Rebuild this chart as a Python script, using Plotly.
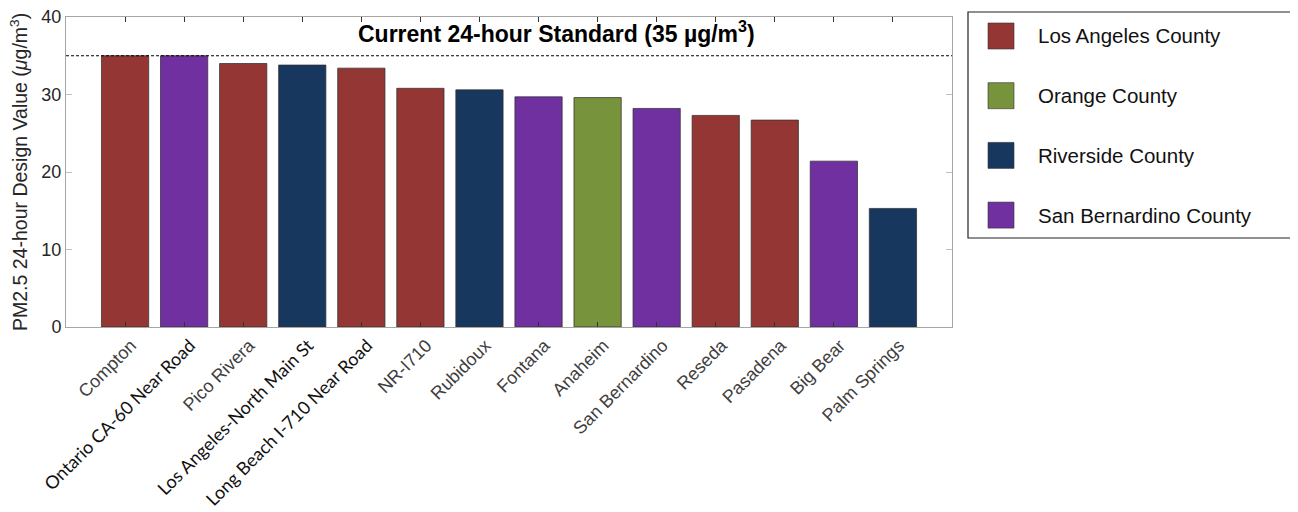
import plotly.graph_objects as go

# PM2.5 24-hour design values by monitoring site
sites = ["Compton", "Ontario CA-60 Near Road", "Pico Rivera", "Los Angeles-North Main St",
         "Long Beach I-710 Near Road", "NR-I710", "Rubidoux", "Fontana", "Anaheim",
         "San Bernardino", "Reseda", "Pasadena", "Big Bear", "Palm Springs"]
values = [35.0, 35.0, 34.0, 33.8, 33.4, 30.8, 30.6, 29.7, 29.6, 28.2, 27.3, 26.7, 21.4, 15.3]
site_county = ["Los Angeles", "San Bernardino", "Los Angeles", "Riverside", "Los Angeles",
               "Los Angeles", "Riverside", "San Bernardino", "Orange", "San Bernardino",
               "Los Angeles", "Los Angeles", "San Bernardino", "Riverside"]
# sites whose labels use a different font in the original
calibri_sites = ["Ontario CA-60 Near Road", "Los Angeles-North Main St", "Long Beach I-710 Near Road"]

counties = ["Los Angeles", "Orange", "Riverside", "San Bernardino"]
county_colors = ["#943634", "#77933C", "#17375E", "#7030A0"]
standard = 35
y_ticks = [0, 10, 20, 30, 40]

color_of = dict(zip(counties, county_colors))
tick_text = []
for s in sites:
    if s in calibri_sites:
        tick_text.append(f"<span style='font-family:Lato;fill:#111111;font-size:18px'>{s}</span>")
    else:
        tick_text.append(s)

fig = go.Figure()
fig.add_trace(go.Bar(
    x=sites, y=values,
    marker=dict(color=[color_of[c] for c in site_county],
                line=dict(color="rgba(50,50,50,0.75)", width=1)),
    width=0.8,
    showlegend=False,
))

fig.add_hline(y=standard, line=dict(color="black", width=1, dash="3px,2px"))

# positions below are given in page pixels (the page body adds an 8px offset)
plot_left, plot_top, plot_right, plot_bottom = 66, 17, 952, 327
def px(xp):
    return (xp - plot_left) / (plot_right - plot_left)
def py(yp):
    return (plot_bottom - yp) / (plot_bottom - plot_top)

fig.add_annotation(text="<b>Current 24-hour Standard (35 µg/m<sup>3</sup>)</b>",
                   xref="paper", yref="paper", x=px(556), y=py(32),
                   xanchor="center", yanchor="middle", showarrow=False,
                   font=dict(size=23, color="black", family="Liberation Sans, Arial"))

fig.add_annotation(text="PM2.5 24-hour Design Value (<i>μ</i>g/m<sup>3</sup>)",
                   xref="paper", yref="paper", x=px(19), y=py(172), textangle=-90,
                   showarrow=False, xanchor="center", yanchor="middle",
                   font=dict(size=19.5, color="#262626", family="Liberation Sans, Arial"))

# manual legend, drawn to the right of the axes
fig.add_shape(type="rect", xref="paper", yref="paper",
              x0=px(968), x1=px(1295), y0=py(238), y1=py(12),
              line=dict(color="#222222", width=1.2), fillcolor="white")
for i, (name, col) in enumerate(zip(counties, county_colors)):
    yc = 36 + i * 59.7
    fig.add_shape(type="rect", xref="paper", yref="paper",
                  x0=px(988), x1=px(1014), y0=py(yc + 13), y1=py(yc - 13),
                  line=dict(color="rgba(50,50,50,0.6)", width=1), fillcolor=col)
    fig.add_annotation(text=f"{name} County", xref="paper", yref="paper",
                       x=px(1036), y=py(yc), xanchor="left", yanchor="middle",
                       showarrow=False,
                       font=dict(size=20.5, color="#111111", family="Liberation Sans, Arial"))

fig.update_layout(
    width=1298, height=512,
    margin=dict(l=plot_left - 8, r=1298 - (plot_right - 8), t=plot_top - 8,
                b=512 - (plot_bottom - 8)),
    plot_bgcolor="white", paper_bgcolor="white",
    font=dict(family="Liberation Sans, Arial", color="#404040"),
    xaxis=dict(
        range=[-1, len(sites)],
        tickmode="array", tickvals=sites, ticktext=tick_text,
        tickangle=-45, tickfont=dict(size=18, color="#404040"),
        ticklabelshift=6,
        ticks="inside", ticklen=5, tickcolor="#333333",
        showline=True, linecolor="#a6a6a6", linewidth=1, mirror="ticks",
        showgrid=False, automargin=False,
    ),
    yaxis=dict(
        range=[0, 40], tickvals=y_ticks,
        tickfont=dict(size=18, color="#262626"),
        ticklabeloverflow="allow",
        ticks="inside", ticklen=6, tickcolor="#bfbfbf",
        showline=True, linecolor="#a6a6a6", linewidth=1, mirror="ticks",
        showgrid=False, zeroline=False, automargin=False,
    ),
)

fig.write_html("out.html")
